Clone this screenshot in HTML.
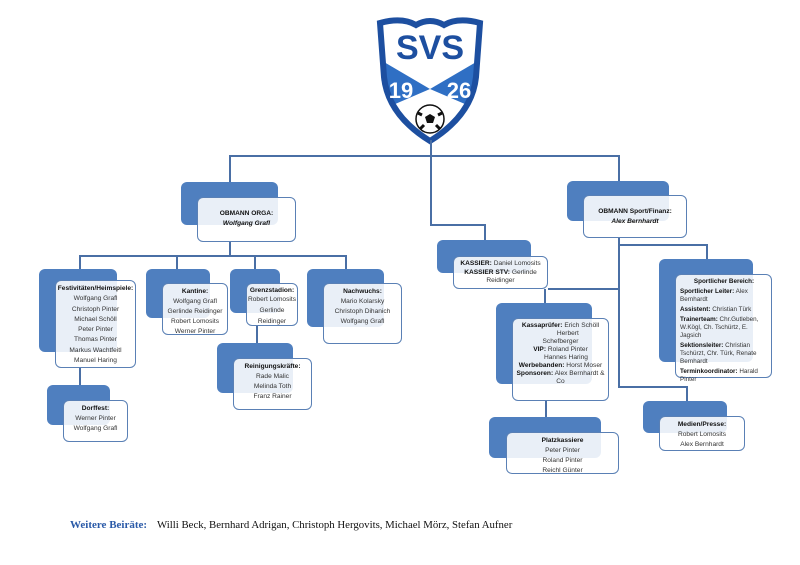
<!DOCTYPE html>
<html><head><meta charset="utf-8"><style>
body{margin:0;background:#fff;}
#c{position:relative;width:800px;height:565px;overflow:hidden;background:#fff;font-family:"Liberation Sans",sans-serif;}
.b{position:absolute;background:#4f7fbf;border-radius:6px;}
.w{position:absolute;background:rgba(255,255,255,0.88);border:1.5px solid #5a80b5;border-radius:6px;box-sizing:border-box;font-size:6.6px;line-height:10px;color:#333;text-align:center;padding-top:3px;}
.w b{color:#111;}
.l{position:absolute;background:#4a6fa5;}
.h{height:1.5px}.v{width:1.5px}
.lt{text-align:left;padding-left:4px;padding-right:3px;line-height:8px;font-size:6.3px;}
.lt p{margin:0 0 2px 0;}
</style></head><body><div id="c">
<!-- logo -->
<svg style="position:absolute;left:372px;top:15px" width="116" height="130" viewBox="0 0 116 130">
<defs><clipPath id="sh"><path d="M8 8 Q30 2 44 10 Q58 2 72 10 Q86 2 108 8 L104 62 Q100 100 58 126 Q16 100 12 62 Z"/></clipPath></defs>
<path d="M8 8 Q30 2 44 10 Q58 2 72 10 Q86 2 108 8 L104 62 Q100 100 58 126 Q16 100 12 62 Z" fill="#fff"/>
<g clip-path="url(#sh)">
<polygon points="0,40 58,74 116,40 116,130 0,130" fill="#2f6fc4"/>
<polygon points="58,74 116,99 116,130 0,130 0,99" fill="#fff"/>
</g>
<path d="M8 8 Q30 2 44 10 Q58 2 72 10 Q86 2 108 8 L104 62 Q100 100 58 126 Q16 100 12 62 Z" fill="none" stroke="#1d4fa0" stroke-width="6"/>
<text x="58" y="44" font-family="Liberation Sans" font-weight="bold" font-size="34" fill="#1d4fa0" text-anchor="middle">SVS</text>
<text x="29" y="83" font-family="Liberation Sans" font-weight="bold" font-size="22" fill="#fff" text-anchor="middle">19</text>
<text x="87" y="83" font-family="Liberation Sans" font-weight="bold" font-size="22" fill="#fff" text-anchor="middle">26</text>
<circle cx="58" cy="104" r="14" fill="#fff" stroke="#111" stroke-width="1.5"/>
<polygon points="58,99 63,102 61,108 55,108 53,102" fill="#111"/>
<path d="M46 98 L50 100 M70 98 L66 100 M48 114 L52 110 M68 114 L64 110" stroke="#111" stroke-width="3"/>
</svg>
<!-- lines -->
<div class="l v" style="left:430px;top:140px;height:85px"></div>
<div class="l h" style="left:229px;top:155px;width:390px"></div>
<div class="l v" style="left:229px;top:155px;height:27px"></div>
<div class="l v" style="left:618px;top:155px;height:26px"></div>
<div class="l h" style="left:430px;top:224px;width:55px"></div>
<div class="l v" style="left:484px;top:224px;height:16px"></div>
<div class="l v" style="left:229px;top:242px;height:13px"></div>
<div class="l h" style="left:79px;top:255px;width:267px"></div>
<div class="l v" style="left:79px;top:255px;height:14px"></div>
<div class="l v" style="left:176px;top:255px;height:14px"></div>
<div class="l v" style="left:254px;top:255px;height:14px"></div>
<div class="l v" style="left:345px;top:255px;height:14px"></div>
<div class="l v" style="left:79px;top:368px;height:17px"></div>
<div class="l v" style="left:256px;top:326px;height:17px"></div>
<div class="l v" style="left:618px;top:238px;height:148px"></div>
<div class="l h" style="left:618px;top:386px;width:69px"></div>
<div class="l v" style="left:686px;top:386px;height:15px"></div>
<div class="l h" style="left:618px;top:244px;width:89px"></div>
<div class="l v" style="left:706px;top:244px;height:15px"></div>
<div class="l h" style="left:548px;top:288px;width:70px"></div>
<div class="l v" style="left:544px;top:289px;height:14px"></div>
<div class="l v" style="left:545px;top:401px;height:16px"></div>
<!-- ORGA -->
<div class="b" style="left:181px;top:182px;width:97px;height:43px"></div>
<div class="w" style="left:197px;top:197px;width:99px;height:45px;padding-top:11px"><b>OBMANN ORGA:</b><br><b><i>Wolfgang Grafl</i></b></div>
<!-- Festivitäten -->
<div class="b" style="left:39px;top:269px;width:78px;height:83px"></div>
<div class="w" style="left:55px;top:280px;width:81px;height:88px;line-height:10.3px"><b>Festivitäten/Heimspiele:</b><br>Wolfgang Grafl<br>Christoph Pinter<br>Michael Schöll<br>Peter Pinter<br>Thomas Pinter<br>Markus Wachtfeitl<br>Manuel Haring</div>
<!-- Dorffest -->
<div class="b" style="left:47px;top:385px;width:63px;height:40px"></div>
<div class="w" style="left:63px;top:400px;width:65px;height:42px"><b>Dorffest:</b><br>Werner Pinter<br>Wolfgang Grafl</div>
<!-- Kantine -->
<div class="b" style="left:146px;top:269px;width:64px;height:49px"></div>
<div class="w" style="left:162px;top:283px;width:66px;height:52px"><b>Kantine:</b><br>Wolfgang Grafl<br>Gerlinde Reidinger<br>Robert Lomosits<br>Werner Pinter</div>
<!-- Grenzstadion -->
<div class="b" style="left:230px;top:269px;width:50px;height:44px"></div>
<div class="w" style="left:246px;top:283px;width:52px;height:43px;line-height:8.5px"><b>Grenzstadion:</b><br>Robert Lomosits<br><span style="line-height:14px">Gerlinde</span><br>Reidinger</div>
<!-- Reinigung -->
<div class="b" style="left:217px;top:343px;width:76px;height:50px"></div>
<div class="w" style="left:233px;top:358px;width:79px;height:52px"><b>Reinigungskräfte:</b><br>Rade Malic<br>Melinda Toth<br>Franz Rainer</div>
<!-- Nachwuchs -->
<div class="b" style="left:307px;top:269px;width:77px;height:58px"></div>
<div class="w" style="left:323px;top:283px;width:79px;height:61px"><b>Nachwuchs:</b><br>Mario Kolarsky<br>Christoph Dihanich<br>Wolfgang Grafl</div>
<!-- Sport -->
<div class="b" style="left:567px;top:181px;width:102px;height:40px"></div>
<div class="w" style="left:583px;top:195px;width:104px;height:43px;padding-top:11px"><b>OBMANN Sport/Finanz:</b><br><b><i>Alex Bernhardt</i></b></div>
<!-- Kassier -->
<div class="b" style="left:437px;top:240px;width:94px;height:33px"></div>
<div class="w" style="left:453px;top:256px;width:95px;height:33px;line-height:8.5px"><b>KASSIER:</b> Daniel Lomosits<br><b>KASSIER STV:</b> Gerlinde<br>Reidinger</div>
<!-- Kassaprüfer -->
<div class="b" style="left:496px;top:303px;width:96px;height:81px"></div>
<div class="w" style="left:512px;top:318px;width:97px;height:83px;line-height:8px"><b>Kassaprüfer:</b> Erich Schöll<br>&nbsp;&nbsp;&nbsp;&nbsp;&nbsp;&nbsp;&nbsp;&nbsp;Herbert<br>Schefberger<br><b>VIP:</b> Roland Pinter<br>&nbsp;&nbsp;&nbsp;&nbsp;&nbsp;&nbsp;Hannes Haring<br><b>Werbebanden:</b> Horst Moser<br><b>Sponsoren:</b> Alex Bernhardt &amp;<br>Co</div>
<!-- Platzkassiere -->
<div class="b" style="left:489px;top:417px;width:112px;height:41px"></div>
<div class="w" style="left:506px;top:432px;width:113px;height:42px"><b>Platzkassiere</b><br>Peter Pinter<br>Roland Pinter<br>Reichl Günter</div>
<!-- Sportlicher -->
<div class="b" style="left:659px;top:259px;width:94px;height:103px"></div>
<div class="w lt" style="left:675px;top:274px;width:97px;height:104px"><p style="text-align:center"><b>Sportlicher Bereich:</b></p><p><b>Sportlicher Leiter:</b> Alex Bernhardt</p><p><b>Assistent:</b> Christian Türk</p><p><b>Trainerteam:</b> Chr.Gutleben, W.Kögl, Ch. Tschürtz, E. Jagsich</p><p><b>Sektionsleiter:</b> Christian Tschürzt, Chr. Türk, Renate Bernhardt</p><p><b>Terminkoordinator:</b> Harald Pinter</p></div>
<!-- Medien -->
<div class="b" style="left:643px;top:401px;width:84px;height:32px"></div>
<div class="w" style="left:659px;top:416px;width:86px;height:35px"><b>Medien/Presse:</b><br>Robert Lomosits<br>Alex Bernhardt</div>
<!-- footer -->
<div style="position:absolute;left:70px;top:519px;font-family:'Liberation Serif',serif;font-size:11px;font-weight:bold;color:#2a5aa8">Weitere Beiräte:</div>
<div style="position:absolute;left:157px;top:519px;font-family:'Liberation Serif',serif;font-size:10.8px;color:#111;white-space:nowrap">Willi Beck, Bernhard Adrigan, Christoph Hergovits, Michael Mörz, Stefan Aufner</div>
</div></body></html>
